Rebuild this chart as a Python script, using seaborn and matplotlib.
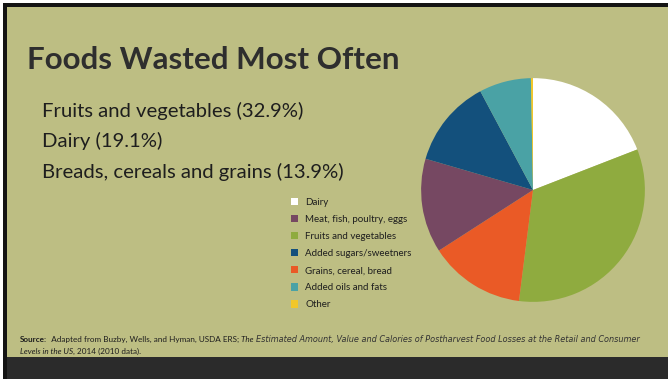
import matplotlib
matplotlib.use("Agg")
import matplotlib.pyplot as plt
from matplotlib.patches import Rectangle, Patch
import seaborn as sns

sns.set_theme(style="white")
plt.rcParams["font.family"] = ["Lato", "DejaVu Sans"]

# Share of food loss by category (percent), clockwise from 12 o'clock
pie_labels = ["Dairy", "Fruits and vegetables", "Grains, cereal, bread",
              "Meat, fish, poultry, eggs", "Added sugars/sweetners",
              "Added oils and fats", "Other"]
pie_values = [19.1, 32.9, 13.9, 13.6, 12.7, 7.5, 0.3]
pie_colors = ["#ffffff", "#8fab3f", "#ea5a26", "#764862", "#13507c",
              "#4aa2a5", "#f1c72a"]

# Legend order
legend_labels = ["Dairy", "Meat, fish, poultry, eggs", "Fruits and vegetables",
                 "Added sugars/sweetners", "Grains, cereal, bread",
                 "Added oils and fats", "Other"]

title = "Foods Wasted Most Often"
bullets = ["Fruits and vegetables (32.9%)", "Dairy (19.1%)",
           "Breads, cereals and grains (13.9%)"]

W, H = 668, 379
BG = "#bdbe83"
fig = plt.figure(figsize=(W / 100, H / 100), dpi=100)
fig.patch.set_facecolor("white")

def px_rect(x, y, w, h, color):
    fig.patches.append(Rectangle((x / W, 1 - (y + h) / H), w / W, h / H,
                                 transform=fig.transFigure, color=color,
                                 zorder=-5, lw=0))

# slide background, frame and bottom strip
px_rect(3, 3, W + 10, H + 10, "#141414")
px_rect(7, 7, W + 10, 350, BG)
px_rect(7, 357, W + 10, 30, "#2b2b2b")

# title and bullet lines
fig.text(27 / W, 1 - 69 / H, title, fontsize=22.6, fontweight="bold",
         color="#2e2e2e", ha="left", va="baseline")
for i, line in enumerate(bullets):
    fig.text(42 / W, 1 - (117 + 30.5 * i) / H, line, fontsize=14.6,
             color="#1e1e1e", ha="left", va="baseline")

# pie
cx, cy, r = 533, 190, 113
ax = fig.add_axes([(cx - r) / W, 1 - (cy + r) / H, 2 * r / W, 2 * r / H])
ax.pie(pie_values, colors=pie_colors, startangle=90, counterclock=False,
       wedgeprops=dict(linewidth=0))
ax.set_aspect("equal")
ax.set_xlim(-1.01, 1.01)
ax.set_ylim(-1.01, 1.01)
ax.axis("off")

# legend
color_of = dict(zip(pie_labels, pie_colors))
handles = [Patch(facecolor=color_of[l], edgecolor="none", label=l)
           for l in legend_labels]
leg = fig.legend(handles=handles, loc="upper left",
                 bbox_to_anchor=(291 / W, 1 - 198 / H), frameon=False,
                 fontsize=7, handlelength=0.75, handleheight=0.75,
                 handletextpad=0.7, labelspacing=0.83, borderpad=0,
                 borderaxespad=0)
for t in leg.get_texts():
    t.set_color("#1e1e1e")

# source note, assembled from styled pieces
fig.canvas.draw()
renderer = fig.canvas.get_renderer()

def run(pieces, x0, ybase):
    x = x0
    for txt, kw in pieces:
        style = dict(color="#1e1e1e")
        style.update(kw)
        t = fig.text(x / W, 1 - ybase / H, txt, ha="left", va="baseline",
                     **style)
        bb = t.get_window_extent(renderer)
        x += bb.width

fs = 5.9
run([("Source:", dict(fontsize=fs, fontweight="bold")),
     ("  Adapted from Buzby, Wells, and Hyman, USDA ERS; ", dict(fontsize=fs)),
     ("The ", dict(fontsize=fs, style="italic")),
     ("Estimated Amount, Value and Calories of Postharvest Food Losses at the Retail and Consumer",
      dict(fontsize=5.9, style="italic", family=["DejaVu Sans"],
           color="#333333"))],
    20, 342)
run([("Levels in the US", dict(fontsize=fs, style="italic")),
     (", 2014 (2010 data).", dict(fontsize=fs))],
    20, 354)

fig.savefig("out.png", dpi=100, facecolor=fig.get_facecolor())
